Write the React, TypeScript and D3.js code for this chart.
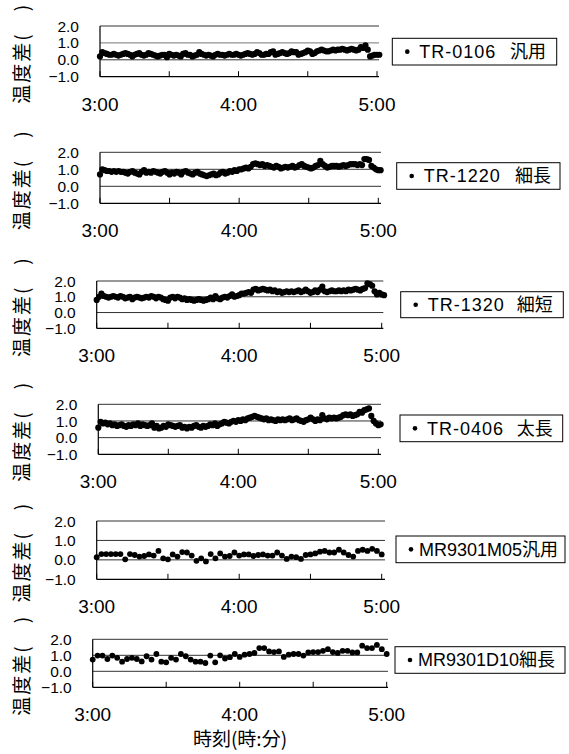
import React from "react";
import * as d3 from "d3";

// ---- data ----
const yTicks = [2.0, 1.0, 0.0, -1.0];
const xTickMinutes = [0, 30, 60, 90, 120];
const xLabelMinutes = [0, 60, 120];
const xLabels = ["3:00", "4:00", "5:00"];
const seriesNames = ["TR-0106", "TR-1220", "TR-1320", "TR-0406", "MR9301M05", "MR9301D10"];
const seriesKinds = ["汎用", "細長", "細短", "太長", "汎用", "細長"];
const yTitle = "温度差(　)";
const xTitle = "時刻(時:分)";

// TR-0106 (1-minute interval)
const tr0106 = [
  0.2,
  0.45, 0.4, 0.35, 0.3, 0.3, 0.35, 0.3, 0.25, 0.3, 0.35,
  0.4, 0.35, 0.3, 0.2, 0.3, 0.35, 0.4, 0.3, 0.25, 0.3,
  0.4, 0.35, 0.3, 0.25, 0.2, 0.25, 0.3, 0.3, 0.15, 0.35,
  0.3, 0.25, 0.3, 0.25, 0.2, 0.35, 0.4, 0.3, 0.3, 0.2,
  0.25, 0.3, 0.45, 0.35, 0.3, 0.25, 0.3, 0.25, 0.2, 0.3,
  0.35, 0.3, 0.3, 0.25, 0.3, 0.35, 0.3, 0.3, 0.35, 0.3,
  0.25, 0.3, 0.35, 0.4, 0.35, 0.3, 0.35, 0.45, 0.4, 0.3,
  0.3, 0.35, 0.35, 0.45, 0.5, 0.3, 0.35, 0.4, 0.45, 0.4,
  0.35, 0.4, 0.5, 0.45, 0.45, 0.3, 0.35, 0.4, 0.45, 0.55,
  0.5, 0.35, 0.4, 0.5, 0.55, 0.6, 0.55, 0.5, 0.5, 0.55,
  0.6, 0.55, 0.6, 0.6, 0.65, 0.6, 0.55, 0.6, 0.65, 0.6,
  0.55, 0.6, 0.75, 0.7, 0.85, 0.6, 0.2, 0.25, 0.3, 0.3, 0.3,
];

// TR-1220
const tr1220 = [
  0.7,
  1.0, 0.95, 0.9, 0.9, 0.85, 0.9, 0.85, 0.9, 0.85, 0.85,
  0.8, 0.75, 0.85, 0.9, 0.8, 0.75, 0.7, 0.85, 0.95, 0.8,
  0.85, 0.8, 0.9, 0.85, 0.8, 0.75, 0.85, 0.9, 0.8, 0.7,
  0.8, 0.75, 0.85, 0.8, 0.7, 0.85, 0.9, 0.8, 0.75, 0.7,
  0.8, 0.85, 0.75, 0.7, 0.65, 0.6, 0.65, 0.7, 0.75, 0.65,
  0.7, 0.8, 0.85, 0.75, 0.8, 0.9, 0.85, 0.95, 0.9, 1.0,
  1.0, 1.05, 1.1, 1.05, 1.15, 1.3, 1.35, 1.3, 1.25, 1.3,
  1.2, 1.25, 1.2, 1.15, 1.1, 1.2, 1.15, 1.05, 1.1, 1.15,
  1.1, 1.15, 1.2, 1.1, 1.15, 1.25, 1.3, 1.2, 1.15, 1.1,
  1.05, 1.1, 1.2, 1.25, 1.5, 1.3, 1.2, 1.1, 1.15, 1.2,
  1.2, 1.2, 1.15, 1.2, 1.25, 1.2, 1.25, 1.3, 1.3, 1.3,
  1.25, 1.3, 1.25, 1.6, 1.6, 1.55, 1.2, 1.1, 1.0, 0.95, 0.95,
];

// TR-1320
const tr1320 = [
  0.8,
  1.0, 1.2, 1.05, 1.0, 0.95, 1.0, 1.05, 1.0, 0.95, 1.05,
  1.0, 0.9, 0.95, 1.0, 0.85, 0.95, 1.0, 0.95, 0.9, 0.95,
  1.0, 0.95, 1.05, 1.0, 0.9, 1.0, 0.95, 0.85, 0.8, 0.75,
  0.95, 1.0, 0.9, 1.0, 0.95, 0.85, 0.9, 0.8, 0.85, 0.8,
  0.75, 0.8, 0.85, 0.8, 0.75, 0.8, 0.85, 0.95, 0.85, 1.05,
  0.9, 0.85, 0.95, 1.0, 0.95, 1.05, 1.15, 1.0, 1.05, 1.1,
  1.2, 1.2, 1.25, 1.3, 1.25, 1.45, 1.5, 1.4, 1.45, 1.5,
  1.45, 1.4, 1.45, 1.35, 1.4, 1.3, 1.35, 1.25, 1.3, 1.35,
  1.3, 1.35, 1.3, 1.35, 1.4, 1.3, 1.35, 1.45, 1.35, 1.25,
  1.3, 1.4, 1.3, 1.45, 1.65, 1.35, 1.3, 1.35, 1.4, 1.35,
  1.35, 1.4, 1.35, 1.4, 1.35, 1.45, 1.4, 1.45, 1.5, 1.45,
  1.4, 1.5, 1.55, 1.85, 1.8, 1.7, 1.35, 1.15, 1.25, 1.15, 1.1,
];

// TR-0406
const tr0406 = [
  0.6,
  0.95, 0.85, 0.9, 0.8, 0.85, 0.75, 0.8, 0.7, 0.75, 0.8,
  0.7, 0.65, 0.75, 0.7, 0.8, 0.75, 0.85, 0.7, 0.8, 0.75,
  0.7, 0.75, 0.85, 0.6, 0.7, 0.55, 0.6, 0.7, 0.65, 0.8,
  0.75, 0.7, 0.65, 0.7, 0.75, 0.6, 0.65, 0.55, 0.65, 0.6,
  0.7, 0.75, 0.65, 0.6, 0.7, 0.65, 0.7, 0.8, 0.75, 0.85,
  0.7, 0.8, 0.85, 0.95, 0.9, 0.85, 0.95, 1.0, 0.95, 1.05,
  1.0, 1.1, 1.05, 1.15, 1.2, 1.25, 1.3, 1.25, 1.2, 1.15,
  1.1, 1.15, 1.05, 1.1, 1.05, 1.0, 1.1, 1.05, 1.1, 1.05,
  1.1, 1.15, 1.05, 1.1, 1.15, 1.05, 1.0, 0.95, 1.05, 1.1,
  1.2, 1.1, 1.0, 1.1, 1.05, 1.35, 1.15, 1.1, 1.2, 1.15,
  1.2, 1.15, 1.2, 1.25, 1.35, 1.4, 1.35, 1.4, 1.3, 1.35,
  1.4, 1.55, 1.5, 1.65, 1.7, 1.75, 1.3, 1.0, 0.85, 0.75, 0.8,
];

// MR9301M05 (2-minute interval)
const mr9301m05 = [
  0.14, 0.3, 0.3, 0.3, 0.3, 0.3, 0.03, 0.3, 0.25, 0.17, 0.2,
  0.28, 0.22, 0.46, 0.08, 0.03, 0.28, 0.17, 0.4, 0.38, 0.22,
  -0.05, 0.08, -0.08, 0.3, 0.08, 0.33, 0.17, 0.2, 0.38, 0.22,
  0.28, 0.28, 0.2, 0.25, 0.28, 0.22, 0.22, 0.38, 0.22, 0.05,
  0.17, 0.14, 0.05, 0.25, 0.28, 0.33, 0.42, 0.46, 0.38, 0.38,
  0.52, 0.38, 0.25, 0.17, 0.46, 0.52, 0.46, 0.57, 0.46, 0.28,
];

// MR9301D10 (2-minute interval)
const mr9301d10 = [
  0.73, 0.98, 0.98, 0.77, 0.98, 0.84, 0.6, 0.77, 0.84, 0.77, 0.62,
  0.94, 0.73, 1.08, 0.6, 0.56, 0.84, 0.73, 1.08, 0.94, 0.73,
  0.6, 0.6, 0.52, 0.98, 0.56, 1.0, 0.8, 0.88, 1.08, 0.9,
  1.04, 1.08, 1.15, 1.45, 1.45, 1.24, 1.2, 1.24, 0.9, 1.04,
  1.08, 1.08, 0.98, 1.18, 1.2, 1.2, 1.28, 1.38, 1.2, 1.15,
  1.28, 1.28, 1.18, 1.18, 1.6, 1.45, 1.45, 1.65, 1.38, 1.08,
];

const seriesData = [tr0106, tr1220, tr1320, tr0406, mr9301m05, mr9301d10];
const seriesStep = [1, 1, 1, 1, 2, 2];

// ---- layout (pixel geometry per panel) ----
const panels = [
  { x0: 100, x1: 377, gx: 379, yTop: 26, yBot: 76.7, lx0: 392.3, lx1: 556.7, ly0: 38.3, ly1: 65, kx: 510 },
  { x0: 100, x1: 378.3, gx: 381, yTop: 152.3, yBot: 203.3, lx0: 396.7, lx1: 560, ly0: 162.7, ly1: 189.3, kx: 515 },
  { x0: 96.7, x1: 381.7, gx: 383.3, yTop: 281, yBot: 328.3, lx0: 400.7, lx1: 563.3, ly0: 291.7, ly1: 317.7, kx: 516.7 },
  { x0: 98.3, x1: 378.3, gx: 381, yTop: 404.3, yBot: 454.3, lx0: 400, lx1: 562.7, ly0: 415, ly1: 441.7, kx: 516.7 },
  { x0: 96.7, x1: 381.7, gx: 385, yTop: 521, yBot: 579.3, lx0: 396, lx1: 565, ly0: 536, ly1: 562.7, kx: 0 },
  { x0: 92.7, x1: 386.7, gx: 388, yTop: 639.3, yBot: 687.3, lx0: 395, lx1: 565, ly0: 646.7, ly1: 673.3, kx: 0 },
];

const FONT = "'Liberation Sans', Arial, 'Noto Sans CJK JP', sans-serif";
const CJK = "'Noto Sans CJK JP', 'Liberation Sans', sans-serif";

function Panel({ idx }: { idx: number }) {
  const p = panels[idx];
  const data = seriesData[idx];
  const step = seriesStep[idx];
  const x = d3.scaleLinear().domain([0, 120]).range([p.x0, p.x1]);
  const y = d3.scaleLinear().domain([-1, 2]).range([p.yBot, p.yTop]);
  const r = step === 1 ? 3.1 : 2.9;
  const lyMid = (p.ly0 + p.ly1) / 2;
  const name = seriesNames[idx];
  const kind = seriesKinds[idx];
  return (
    <g>
      {/* gridlines */}
      {yTicks.filter((t) => t > -1).map((t) => (
        <line key={t} x1={p.x0} x2={p.gx} y1={y(t)} y2={y(t)} stroke={t === 1 && idx === 0 ? "#777" : "#333"} strokeWidth={1} />
      ))}
      {/* axes */}
      <line x1={p.x0} x2={p.gx} y1={y(-1)} y2={y(-1)} stroke="#000" strokeWidth={1.2} />
      <line x1={p.x0} x2={p.x0} y1={y(2)} y2={y(-1)} stroke="#000" strokeWidth={1.2} />
      {xTickMinutes.map((m) => (
        <line key={m} x1={x(m)} x2={x(m)} y1={y(-1)} y2={y(-1) - 5.5} stroke="#000" strokeWidth={1} />
      ))}
      {/* y labels */}
      {yTicks.map((t) => (
        <text key={t} x={p.x0 - 21} y={y(t)} dy="0.36em" textAnchor="end" fontSize={15.5} fontFamily={FONT} fill="#000">
          {d3.format(".1f")(t)}
        </text>
      ))}
      {/* x labels */}
      {xLabelMinutes.map((m, i) => (
        <text key={m} x={x(m)} y={p.yBot + 34} textAnchor="middle" fontSize={19} fontFamily={FONT} fill="#000">
          {xLabels[i]}
        </text>
      ))}
      {/* y title */}
      <text
        transform={`translate(${29},${(p.yTop + p.yBot) / 2 + 2}) rotate(-90)`}
        textAnchor="middle"
        fontSize={19}
        fontFamily={CJK}
        fill="#000"
        letterSpacing={2}
      >
        {yTitle}
      </text>
      {/* data */}
      {data.map((v, i) => (
        <circle key={i} cx={x(i * step)} cy={y(v)} r={r} fill="#000" />
      ))}
      {/* legend */}
      <rect x={p.lx0} y={p.ly0} width={p.lx1 - p.lx0} height={p.ly1 - p.ly0} fill="#fff" stroke="#000" strokeWidth={1} />
      <circle cx={p.lx0 + 15} cy={lyMid} r={2.3} fill="#000" />
      {p.kx > 0 ? (
        <text y={lyMid} dy="0.36em" fontSize={18} fontFamily={FONT} fill="#000">
          <tspan x={p.lx0 + 27} letterSpacing={1}>{name}</tspan>
          <tspan x={p.kx} fontFamily={CJK}>{kind}</tspan>
        </text>
      ) : (
        <text y={lyMid} dy="0.36em" fontSize={18} fontFamily={FONT} fill="#000">
          <tspan x={p.lx0 + 23}>{name}</tspan>
          <tspan fontFamily={CJK}>{kind}</tspan>
        </text>
      )}
    </g>
  );
}

export default function App() {
  return (
    <div style={{ position: "absolute", left: 0, top: 0 }}>
      <svg width={569} height={754} style={{ display: "block", background: "#fff" }}>
        <rect width={569} height={754} fill="#fff" />
        {panels.map((_, i) => (
          <Panel key={i} idx={i} />
        ))}
        <text x={240} y={746} textAnchor="middle" fontSize={19} fontFamily={CJK} fill="#000">
          {xTitle}
        </text>
      </svg>
    </div>
  );
}
